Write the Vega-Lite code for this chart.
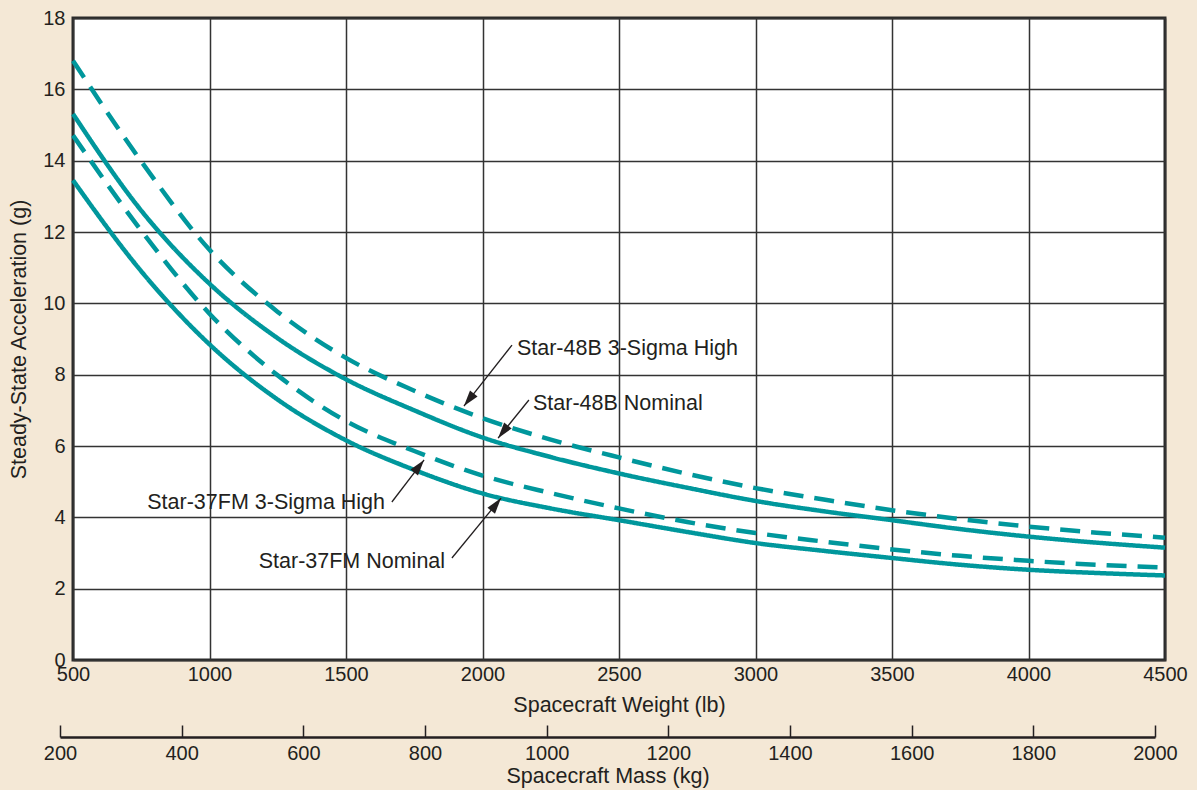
{
  "$schema": "https://vega.github.io/schema/vega-lite/v6.json",
  "width": 1092,
  "height": 642,
  "autosize": "none",
  "padding": {"left": 73, "top": 18, "right": 32, "bottom": 130},
  "background": "#f4e8d6",
  "config": {
    "view": {"fill": "#ffffff", "stroke": "#2a2a2a", "strokeWidth": 3},
    "font": "Liberation Sans",
    "axis": {"labelFont": "Liberation Sans", "titleFont": "Liberation Sans", "labelColor": "#231f20", "titleColor": "#231f20", "titleFontWeight": "normal", "labelFlush": false, "format": "d"}
  },
  "datasets": {
    "curves": [
      {"series": "Star-48B 3-Sigma High", "kind": "3-Sigma High", "lb": 500, "g": 16.8},
      {"series": "Star-48B 3-Sigma High", "kind": "3-Sigma High", "lb": 750, "g": 13.98},
      {"series": "Star-48B 3-Sigma High", "kind": "3-Sigma High", "lb": 1000, "g": 11.5},
      {"series": "Star-48B 3-Sigma High", "kind": "3-Sigma High", "lb": 1250, "g": 9.76},
      {"series": "Star-48B 3-Sigma High", "kind": "3-Sigma High", "lb": 1500, "g": 8.47},
      {"series": "Star-48B 3-Sigma High", "kind": "3-Sigma High", "lb": 1750, "g": 7.55},
      {"series": "Star-48B 3-Sigma High", "kind": "3-Sigma High", "lb": 2000, "g": 6.78},
      {"series": "Star-48B 3-Sigma High", "kind": "3-Sigma High", "lb": 2250, "g": 6.18},
      {"series": "Star-48B 3-Sigma High", "kind": "3-Sigma High", "lb": 2500, "g": 5.68},
      {"series": "Star-48B 3-Sigma High", "kind": "3-Sigma High", "lb": 2750, "g": 5.22},
      {"series": "Star-48B 3-Sigma High", "kind": "3-Sigma High", "lb": 3000, "g": 4.82},
      {"series": "Star-48B 3-Sigma High", "kind": "3-Sigma High", "lb": 3250, "g": 4.5},
      {"series": "Star-48B 3-Sigma High", "kind": "3-Sigma High", "lb": 3500, "g": 4.2},
      {"series": "Star-48B 3-Sigma High", "kind": "3-Sigma High", "lb": 3750, "g": 3.95},
      {"series": "Star-48B 3-Sigma High", "kind": "3-Sigma High", "lb": 4000, "g": 3.74},
      {"series": "Star-48B 3-Sigma High", "kind": "3-Sigma High", "lb": 4250, "g": 3.57},
      {"series": "Star-48B 3-Sigma High", "kind": "3-Sigma High", "lb": 4500, "g": 3.43},
      {"series": "Star-48B Nominal", "kind": "Nominal", "lb": 500, "g": 15.31},
      {"series": "Star-48B Nominal", "kind": "Nominal", "lb": 750, "g": 12.6},
      {"series": "Star-48B Nominal", "kind": "Nominal", "lb": 1000, "g": 10.55},
      {"series": "Star-48B Nominal", "kind": "Nominal", "lb": 1250, "g": 9.02},
      {"series": "Star-48B Nominal", "kind": "Nominal", "lb": 1500, "g": 7.87},
      {"series": "Star-48B Nominal", "kind": "Nominal", "lb": 1750, "g": 7.0},
      {"series": "Star-48B Nominal", "kind": "Nominal", "lb": 2000, "g": 6.24},
      {"series": "Star-48B Nominal", "kind": "Nominal", "lb": 2250, "g": 5.69},
      {"series": "Star-48B Nominal", "kind": "Nominal", "lb": 2500, "g": 5.23},
      {"series": "Star-48B Nominal", "kind": "Nominal", "lb": 2750, "g": 4.83},
      {"series": "Star-48B Nominal", "kind": "Nominal", "lb": 3000, "g": 4.46},
      {"series": "Star-48B Nominal", "kind": "Nominal", "lb": 3250, "g": 4.17},
      {"series": "Star-48B Nominal", "kind": "Nominal", "lb": 3500, "g": 3.92},
      {"series": "Star-48B Nominal", "kind": "Nominal", "lb": 3750, "g": 3.67},
      {"series": "Star-48B Nominal", "kind": "Nominal", "lb": 4000, "g": 3.46},
      {"series": "Star-48B Nominal", "kind": "Nominal", "lb": 4250, "g": 3.29},
      {"series": "Star-48B Nominal", "kind": "Nominal", "lb": 4500, "g": 3.15},
      {"series": "Star-37FM 3-Sigma High", "kind": "3-Sigma High", "lb": 500, "g": 14.71},
      {"series": "Star-37FM 3-Sigma High", "kind": "3-Sigma High", "lb": 750, "g": 12.04},
      {"series": "Star-37FM 3-Sigma High", "kind": "3-Sigma High", "lb": 1000, "g": 9.71},
      {"series": "Star-37FM 3-Sigma High", "kind": "3-Sigma High", "lb": 1250, "g": 7.98},
      {"series": "Star-37FM 3-Sigma High", "kind": "3-Sigma High", "lb": 1500, "g": 6.7},
      {"series": "Star-37FM 3-Sigma High", "kind": "3-Sigma High", "lb": 1750, "g": 5.86},
      {"series": "Star-37FM 3-Sigma High", "kind": "3-Sigma High", "lb": 2000, "g": 5.17},
      {"series": "Star-37FM 3-Sigma High", "kind": "3-Sigma High", "lb": 2250, "g": 4.68},
      {"series": "Star-37FM 3-Sigma High", "kind": "3-Sigma High", "lb": 2500, "g": 4.25},
      {"series": "Star-37FM 3-Sigma High", "kind": "3-Sigma High", "lb": 2750, "g": 3.87},
      {"series": "Star-37FM 3-Sigma High", "kind": "3-Sigma High", "lb": 3000, "g": 3.56},
      {"series": "Star-37FM 3-Sigma High", "kind": "3-Sigma High", "lb": 3250, "g": 3.32},
      {"series": "Star-37FM 3-Sigma High", "kind": "3-Sigma High", "lb": 3500, "g": 3.1},
      {"series": "Star-37FM 3-Sigma High", "kind": "3-Sigma High", "lb": 3750, "g": 2.92},
      {"series": "Star-37FM 3-Sigma High", "kind": "3-Sigma High", "lb": 4000, "g": 2.78},
      {"series": "Star-37FM 3-Sigma High", "kind": "3-Sigma High", "lb": 4250, "g": 2.67},
      {"series": "Star-37FM 3-Sigma High", "kind": "3-Sigma High", "lb": 4500, "g": 2.59},
      {"series": "Star-37FM Nominal", "kind": "Nominal", "lb": 500, "g": 13.45},
      {"series": "Star-37FM Nominal", "kind": "Nominal", "lb": 750, "g": 10.9},
      {"series": "Star-37FM Nominal", "kind": "Nominal", "lb": 1000, "g": 8.85},
      {"series": "Star-37FM Nominal", "kind": "Nominal", "lb": 1250, "g": 7.3},
      {"series": "Star-37FM Nominal", "kind": "Nominal", "lb": 1500, "g": 6.16},
      {"series": "Star-37FM Nominal", "kind": "Nominal", "lb": 1750, "g": 5.33},
      {"series": "Star-37FM Nominal", "kind": "Nominal", "lb": 2000, "g": 4.67},
      {"series": "Star-37FM Nominal", "kind": "Nominal", "lb": 2250, "g": 4.25},
      {"series": "Star-37FM Nominal", "kind": "Nominal", "lb": 2500, "g": 3.92},
      {"series": "Star-37FM Nominal", "kind": "Nominal", "lb": 2750, "g": 3.59},
      {"series": "Star-37FM Nominal", "kind": "Nominal", "lb": 3000, "g": 3.28},
      {"series": "Star-37FM Nominal", "kind": "Nominal", "lb": 3250, "g": 3.06},
      {"series": "Star-37FM Nominal", "kind": "Nominal", "lb": 3500, "g": 2.86},
      {"series": "Star-37FM Nominal", "kind": "Nominal", "lb": 3750, "g": 2.67},
      {"series": "Star-37FM Nominal", "kind": "Nominal", "lb": 4000, "g": 2.53},
      {"series": "Star-37FM Nominal", "kind": "Nominal", "lb": 4250, "g": 2.44},
      {"series": "Star-37FM Nominal", "kind": "Nominal", "lb": 4500, "g": 2.37}
    ],
    "notes": [
      {"label": "Star-48B 3-Sigma High", "side": "right", "lb": 2126, "g": 8.72, "sx": 2108, "sy": 8.83, "ex": 1932, "ey": 7.12},
      {"label": "Star-48B Nominal", "side": "right", "lb": 2185, "g": 7.18, "sx": 2170, "sy": 7.29, "ex": 2057, "ey": 6.22},
      {"label": "Star-37FM 3-Sigma High", "side": "left", "lb": 1643, "g": 4.4, "sx": 1668, "sy": 4.43, "ex": 1786, "ey": 5.61},
      {"label": "Star-37FM Nominal", "side": "left", "lb": 1863, "g": 2.75, "sx": 1888, "sy": 2.86, "ex": 2068, "ey": 4.54}
    ],
    "mass": [{"kg": 200}, {"kg": 2000}]
  },
  "layer": [
    {
      "layer": [
        {
          "data": {"name": "curves"},
          "mark": {"type": "line", "color": "#00979c", "strokeWidth": 4.5, "interpolate": "monotone"},
          "encoding": {
            "x": {
              "field": "lb", "type": "quantitative",
              "scale": {"domain": [500, 4500], "nice": false, "zero": false},
              "axis": {
                "title": "Spacecraft Weight (lb)",
                "values": [500, 1000, 1500, 2000, 2500, 3000, 3500, 4000, 4500],
                "grid": true, "gridColor": "#333333", "gridWidth": 1.5,
                "ticks": false, "domain": false,
                "labelFontSize": 20, "labelPadding": 4,
                "titleFontSize": 21.5, "titlePadding": 10
              }
            },
            "y": {
              "field": "g", "type": "quantitative",
              "scale": {"domain": [0, 18], "nice": false},
              "axis": {
                "title": "Steady-State Acceleration (g)",
                "values": [0, 2, 4, 6, 8, 10, 12, 14, 16, 18],
                "grid": true, "gridColor": "#333333", "gridWidth": 1.5,
                "ticks": false, "domain": false,
                "labelFontSize": 20, "labelPadding": 8,
                "titleFontSize": 21.5, "titlePadding": 12
              }
            },
            "detail": {"field": "series"},
            "strokeDash": {
              "field": "kind", "type": "nominal",
              "scale": {"domain": ["Nominal", "3-Sigma High"], "range": [[1, 0], [20, 11]]},
              "legend": null
            }
          }
        },
        {
          "data": {"name": "notes"},
          "mark": {"type": "rule", "color": "#231f20", "strokeWidth": 1.3},
          "encoding": {
            "x": {"field": "sx", "type": "quantitative"},
            "y": {"field": "sy", "type": "quantitative"},
            "x2": {"field": "ex"},
            "y2": {"field": "ey"}
          }
        },
        {
          "data": {"name": "notes"},
          "transform": [{"filter": "datum.side === 'right'"}],
          "mark": {"type": "point", "shape": "M0,0L-0.3,1L0.3,1Z", "size": 1024, "filled": true, "color": "#231f20", "opacity": 1, "angle": 218},
          "encoding": {
            "x": {"field": "ex", "type": "quantitative"},
            "y": {"field": "ey", "type": "quantitative"}
          }
        },
        {
          "data": {"name": "notes"},
          "transform": [{"filter": "datum.side === 'left'"}],
          "mark": {"type": "point", "shape": "M0,0L-0.3,1L0.3,1Z", "size": 1024, "filled": true, "color": "#231f20", "opacity": 1, "angle": 38},
          "encoding": {
            "x": {"field": "ex", "type": "quantitative"},
            "y": {"field": "ey", "type": "quantitative"}
          }
        },
        {
          "data": {"name": "notes"},
          "transform": [{"filter": "datum.side === 'right'"}],
          "mark": {"type": "text", "align": "left", "baseline": "middle", "font": "Liberation Sans", "fontSize": 21.5, "color": "#231f20"},
          "encoding": {
            "x": {"field": "lb", "type": "quantitative"},
            "y": {"field": "g", "type": "quantitative"},
            "text": {"field": "label"}
          }
        },
        {
          "data": {"name": "notes"},
          "transform": [{"filter": "datum.side === 'left'"}],
          "mark": {"type": "text", "align": "right", "baseline": "middle", "font": "Liberation Sans", "fontSize": 21.5, "color": "#231f20"},
          "encoding": {
            "x": {"field": "lb", "type": "quantitative"},
            "y": {"field": "g", "type": "quantitative"},
            "text": {"field": "label"}
          }
        }
      ]
    },
    {
      "data": {"name": "mass"},
      "mark": {"type": "point", "opacity": 0},
      "encoding": {
        "x": {
          "field": "kg", "type": "quantitative",
          "scale": {"domain": [200, 2000], "range": [-13, 1082], "nice": false, "zero": false},
          "axis": {
            "orient": "bottom", "offset": 77,
            "title": "Spacecraft Mass (kg)",
            "values": [200, 400, 600, 800, 1000, 1200, 1400, 1600, 1800, 2000],
            "grid": false,
            "domain": true, "domainColor": "#231f20", "domainWidth": 2.5,
            "ticks": true, "tickSize": -12, "tickColor": "#231f20", "tickWidth": 1.5,
            "labelFontSize": 20, "labelPadding": 18,
            "titleFontSize": 21.5, "titlePadding": 2
          }
        }
      }
    }
  ],
  "resolve": {"scale": {"x": "independent"}, "axis": {"x": "independent"}}
}
